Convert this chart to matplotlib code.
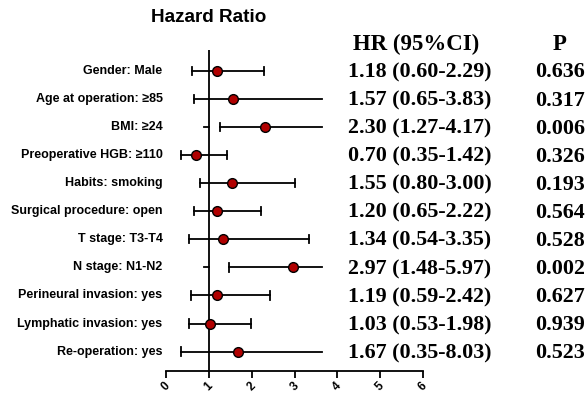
import matplotlib.pyplot as plt
import numpy as np

labels = [
    "Gender: Male",
    "Age at operation: \u226585",
    "BMI: \u226524",
    "Preoperative HGB: \u2265110",
    "Habits: smoking",
    "Surgical procedure: open",
    "T stage: T3-T4",
    "N stage: N1-N2",
    "Perineural invasion: yes",
    "Lymphatic invasion: yes",
    "Re-operation: yes",
]
hr = [1.18, 1.57, 2.30, 0.70, 1.55, 1.20, 1.34, 2.97, 1.19, 1.03, 1.67]
lo = [0.60, 0.65, 1.27, 0.35, 0.80, 0.65, 0.54, 1.48, 0.59, 0.53, 0.35]
hi = [2.29, 3.83, 4.17, 1.42, 3.00, 2.22, 3.35, 5.97, 2.42, 1.98, 8.03]
pvals = ["0.636", "0.317", "0.006", "0.326", "0.193", "0.564", "0.528",
         "0.002", "0.627", "0.939", "0.523"]
xticks = [0, 1, 2, 3, 4, 5, 6]

# the original drawing cuts the whiskers off at this x
clip_x = 3.64

W, H = 587, 394
fig = plt.figure(figsize=(W / 100, H / 100), dpi=100)
ax = fig.add_axes([166 / W, 1 - 371 / H, (423 - 166) / W, (371 - 50) / H])

y = np.arange(len(labels))
hr = np.array(hr)
lo = np.array(lo)
hi = np.array(hi)

ax.axvline(1, color="black", lw=1.3, zorder=1)

for yi, l, h in zip(y, lo, hi):
    hc = min(h, clip_x)
    ax.plot([l, hc], [yi, yi], color="black", lw=1.3, zorder=2)
    ax.plot([l, l], [yi - 0.15, yi + 0.15], color="black", lw=1.3, zorder=2)
    if h <= clip_x:
        ax.plot([h, h], [yi - 0.15, yi + 0.15], color="black", lw=1.3, zorder=2)
    if l > 1:
        # small stub left of the reference line
        ax.plot([0.88, 1], [yi, yi], color="black", lw=1.3, zorder=2)

ax.plot(hr, y, "o", ms=7, mfc="#b00000", mec="black", mew=1.0, zorder=3)

ax.set_xlim(0, 6)
ax.set_ylim(10.69, -0.74)
ax.set_xticks(xticks)
ax.set_xticklabels([str(t) for t in xticks], rotation=45, fontsize=8.5,
                   fontweight="bold", family="Liberation Sans")
ax.tick_params(axis="x", length=5, width=1.3, pad=1.5)
ax.set_yticks([])
for s in ["left", "top", "right"]:
    ax.spines[s].set_visible(False)
ax.spines["bottom"].set_linewidth(1.3)

for yi, lab in zip(y, labels):
    ax.text(-0.08, yi, lab, ha="right", va="center", fontsize=9,
            fontweight="bold", family="Liberation Sans")

for yi, h, l, u, p in zip(y, hr, lo, hi, pvals):
    ax.annotate(f"{h:.2f} ({l:.2f}-{u:.2f})", xy=(420 / W, yi + 0.06),
                xycoords=("figure fraction", "data"), ha="center", va="center",
                fontsize=15.8, fontweight="bold", family="Liberation Serif",
                annotation_clip=False)
    ax.annotate(p, xy=(560 / W, yi + 0.06), xycoords=("figure fraction", "data"),
                ha="center", va="center", fontsize=15.8, fontweight="bold",
                family="Liberation Serif", annotation_clip=False)

fig.text(416 / W, 1 - 44 / H, "HR (95%CI)", ha="center", va="center",
         fontsize=16.5, fontweight="bold", family="Liberation Serif")
fig.text(560 / W, 1 - 44 / H, "P", ha="center", va="center",
         fontsize=16.5, fontweight="bold", family="Liberation Serif")
fig.text(209 / W, 1 - 18 / H, "Hazard Ratio", ha="center", va="center",
         fontsize=13.6, fontweight="bold", family="Liberation Sans")

plt.savefig("out.png", dpi=100)
plt.close()
